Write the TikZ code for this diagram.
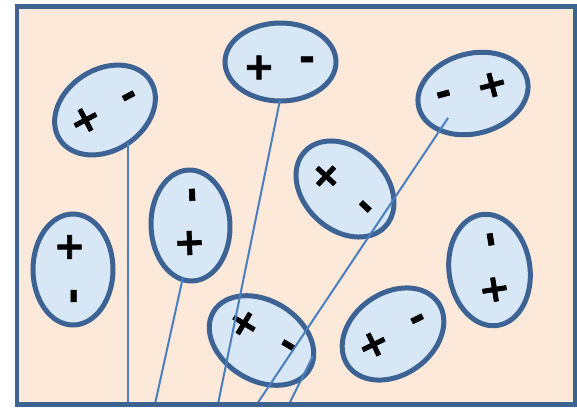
\documentclass[tikz,border=0pt]{standalone}
\usepackage{fontspec}
\setmainfont{DejaVu Sans}
\newfontfamily\chgfont{DejaVu Sans Bold}[FakeBold=1.6]
\usetikzlibrary{shapes.geometric}
\definecolor{bgpeach}{HTML}{FDE9DA}
\definecolor{framec}{HTML}{3D6491}
\definecolor{cellfill}{HTML}{D8E7F6}
\definecolor{cellline}{HTML}{3C6393}
\definecolor{wire}{HTML}{4A7EBE}
\tikzset{
  cell/.style={ellipse, draw=cellline, line width=5pt, fill=cellfill, inner sep=0pt},
  chg/.style={font=\chgfont\fontsize{38}{38}\selectfont, inner sep=0pt, text=black},
  wireline/.style={draw=wire, line width=2pt},
}
\begin{document}
\begin{tikzpicture}[x=1pt,y=-1pt]
\useasboundingbox (0,0) rectangle (577,407);
\fill[bgpeach] (17,6.5) rectangle (575,404.5);
% cells
\node[cell, minimum width=108pt, minimum height=81pt, rotate=33] (e1) at (105,110) {};
\node[cell, minimum width=111pt, minimum height=78pt] (e2) at (280.5,62) {};
\node[cell, minimum width=112pt, minimum height=80pt, rotate=15] (e3) at (473,93.5) {};
\node[cell, minimum width=110pt, minimum height=82pt, rotate=-43] (e4) at (345,189) {};
\node[cell, minimum width=111pt, minimum height=80pt, rotate=-90] (e5) at (73,269.5) {};
\node[cell, minimum width=111pt, minimum height=79pt, rotate=-88] (e6) at (190.5,225.5) {};
\node[cell, minimum width=112pt, minimum height=80pt, rotate=-31] (e7) at (261.5,340.5) {};
\node[cell, minimum width=110pt, minimum height=82pt, rotate=35] (e8) at (393,334) {};
\node[cell, minimum width=112pt, minimum height=81pt, rotate=-82] (e9) at (489.5,270) {};
% charges
\node[chg, rotate=28] (e1p) at (85.5,120) {+};
\node[chg, rotate=28] (e1m) at (130.5,99.5) {-};
\node[chg] (e2p) at (259,67.5) {+};
\node[chg] (e2m) at (307,63.5) {-};
\node[chg, rotate=15] (e3m) at (444.5,98) {-};
\node[chg, rotate=15] (e3p) at (492,85) {+};
\node[chg, rotate=-43] (e4p) at (326,176) {+};
\node[chg, rotate=-43] (e4m) at (362.5,209.5) {-};
\node[chg, rotate=-90] (e5p) at (69.5,247) {+};
\node[chg, rotate=-90] (e5m) at (69.5,296) {-};
\node[chg, rotate=-88] (e6m) at (188,195) {-};
\node[chg, rotate=-88] (e6p) at (189.5,243) {+};
\node[chg, rotate=-31] (e7p) at (244,323.5) {+};
\node[chg, rotate=-31] (e7m) at (286,348.5) {-};
\node[chg, rotate=26] (e8p) at (373.5,344.5) {+};
\node[chg, rotate=26] (e8m) at (419,322.5) {-};
\node[chg, rotate=-81] (e9m) at (486.5,240) {-};
\node[chg, rotate=-81] (e9p) at (494.5,289.5) {+};
% wires
\coordinate (s1) at (128,143);
\coordinate (s2) at (183,277);
\coordinate (s3) at (280,100);
\coordinate (s4) at (448,118);
\coordinate (s5) at (313,356);
\coordinate (b1) at (128,404);
\coordinate (b2) at (155,404);
\coordinate (b3) at (218,404);
\coordinate (b4) at (257,404);
\coordinate (b5) at (289,404);
\draw[wireline] (s1) -- (b1);
\draw[wireline] (s2) -- (b2);
\draw[wireline] (s3) -- (b3);
\draw[wireline] (s4) -- (b4);
\draw[wireline] (s5) -- (b5);
% frame
\draw[framec, line width=4.5pt] (17,6.5) rectangle (575,404.5);
\end{tikzpicture}
\end{document}
